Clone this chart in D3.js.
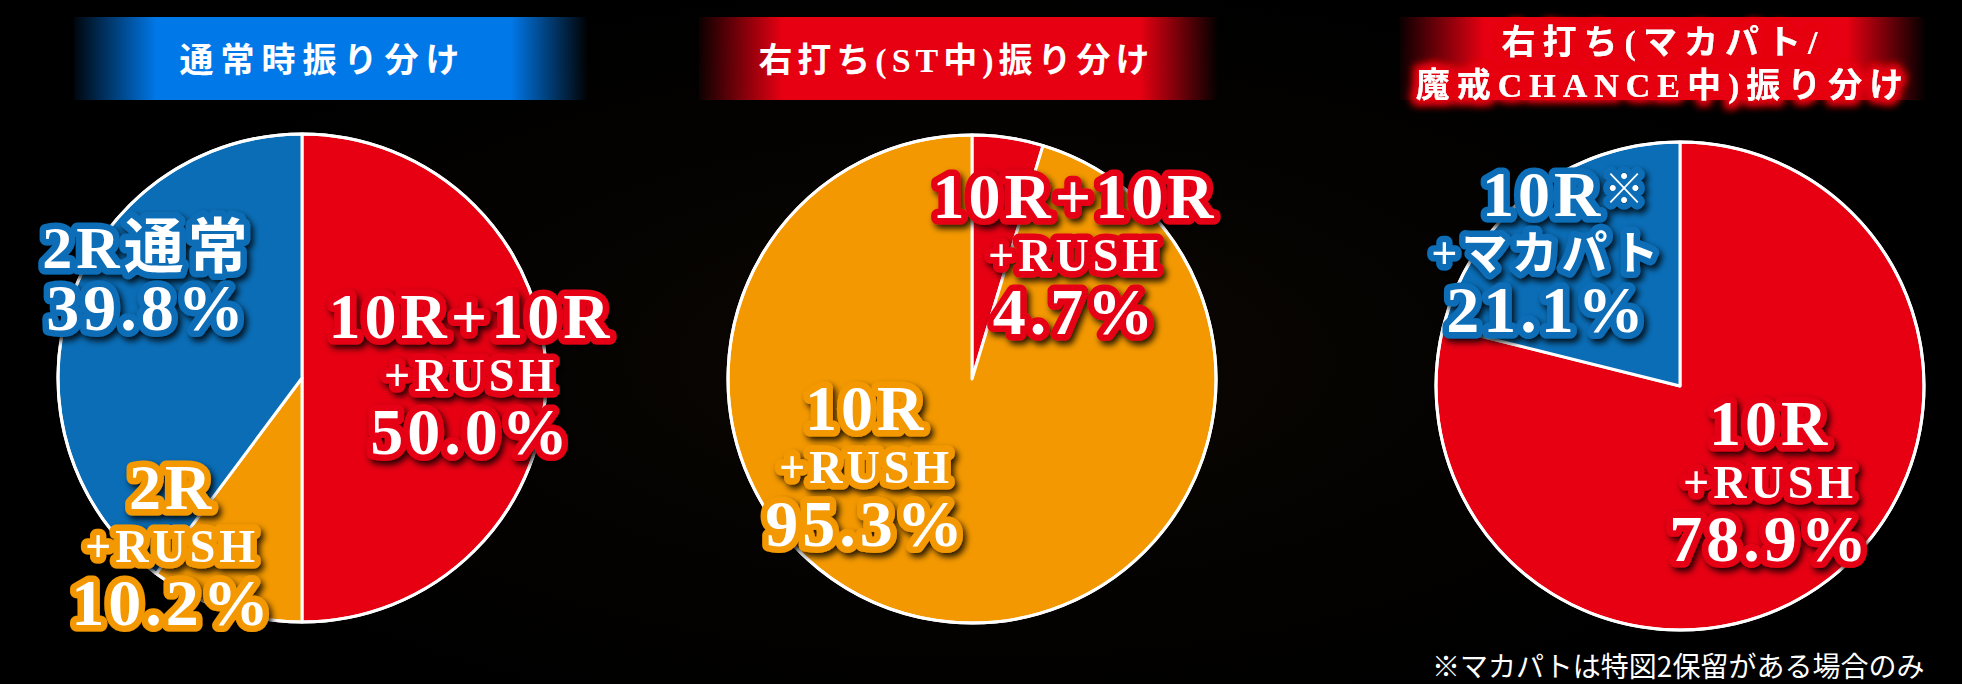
<!DOCTYPE html>
<html>
<head>
<meta charset="utf-8">
<script src="https://cdn.jsdelivr.net/npm/d3@7"></script>
<style>
  body { margin: 0; background: #000; }
  svg { display: block; }
</style>
</head>
<body>
<svg id="chart"></svg>
<script>
// values, clockwise from 12 o'clock
const normalCats = ["10R+10R|+RUSH", "2R|+RUSH", "2R通常"];
const normalValues = [50.0, 10.2, 39.8];
const stCats = ["10R+10R|+RUSH", "10R|+RUSH"];
const stValues = [4.7, 95.3];
const makaCats = ["10R|+RUSH", "10R※|+マカパト"];
const makaValues = [78.9, 21.1];
const titles = [
  ["通常時振り分け"],
  ["右打ち(ST中)振り分け"],
  ["右打ち(マカパト/", "魔戒CHANCE中)振り分け"]
];
const footnote = "※マカパトは特図2保留がある場合のみ";

const RED = "#e60012", ORANGE = "#f39800", BLUE = "#0a6db6";

var width = 1962, height = 684, radius = 244;

// layout per pie (centre, banner, label anchors relative to centre)
const charts = [
  { cats: normalCats, values: normalValues, colors: [RED, ORANGE, BLUE],
    cx: 302, cy: 378, banner: [74, 588], bannerColor: "#0078e8", spacing: 7,
    labelAt: [[169, -40], [-130, 131], [-155, -110]] },
  { cats: stCats, values: stValues, colors: [RED, ORANGE],
    cx: 972, cy: 379, banner: [699, 1218], bannerColor: RED, spacing: 5,
    labelAt: [[103, -161], [-106, 51]] },
  { cats: makaCats, values: makaValues, colors: [RED, BLUE],
    cx: 1680, cy: 386, banner: [1400, 1926], bannerColor: RED, spacing: 7,
    labelAt: [[90, 59], [-133, -170]] }
];

var svg = d3.select("#chart").attr("width", width).attr("height", height);
var defs = svg.append("defs");

/* background: black with a faint brown haze */
var bg = defs.append("radialGradient").attr("id", "bgGlow");
bg.append("stop").attr("offset", "0%").attr("stop-color", "#120b04");
bg.append("stop").attr("offset", "100%").attr("stop-color", "#000");
svg.append("rect").attr("width", width).attr("height", height).attr("fill", "#000");
svg.append("ellipse").attr("cx", 980).attr("cy", 360).attr("rx", 900).attr("ry", 380)
  .attr("fill", "url(#bgGlow)").attr("opacity", 0.6);

/* filters */
var shadow = defs.append("filter").attr("id", "shadow")
  .attr("x", "-20%").attr("y", "-20%").attr("width", "140%").attr("height", "140%");
shadow.append("feDropShadow").attr("dx", 3).attr("dy", 4).attr("stdDeviation", 3)
  .attr("flood-color", "#000").attr("flood-opacity", 0.85);

var glow = defs.append("filter").attr("id", "redGlow")
  .attr("x", "-10%").attr("y", "-40%").attr("width", "120%").attr("height", "180%");
glow.append("feMorphology").attr("in", "SourceAlpha").attr("operator", "dilate").attr("radius", 4).attr("result", "fat");
glow.append("feGaussianBlur").attr("in", "fat").attr("stdDeviation", 4).attr("result", "blur");
glow.append("feFlood").attr("flood-color", RED);
glow.append("feComposite").attr("in2", "blur").attr("operator", "in").attr("result", "halo");
var gm = glow.append("feMerge");
gm.append("feMergeNode").attr("in", "halo");
gm.append("feMergeNode").attr("in", "halo");
gm.append("feMergeNode").attr("in", "SourceGraphic");

var pie = d3.pie().sort(null).value(function(d) { return d; });
var arc = d3.arc().innerRadius(0).outerRadius(radius);
var fmt = d3.format(".1f");

charts.forEach(function(c, ci) {
  /* title banner */
  var gid = "banner" + ci;
  var grad = defs.append("linearGradient").attr("id", gid);
  [[0, 0.05], [0.16, 1], [0.85, 1], [1, 0]].forEach(function(s) {
    grad.append("stop").attr("offset", s[0]).attr("stop-color", c.bannerColor).attr("stop-opacity", s[1]);
  });
  svg.append("rect")
    .attr("x", c.banner[0]).attr("y", 17)
    .attr("width", c.banner[1] - c.banner[0]).attr("height", 83)
    .attr("fill", "url(#" + gid + ")");

  var tl = titles[ci];
  var tcx = (c.banner[0] + c.banner[1]) / 2 - (ci === 0 ? 8 : 0);
  var tys = tl.length === 1 ? [60] : [42, 85];
  svg.selectAll(".title" + ci)
    .data(tl)
    .enter()
    .append("text")
    .attr("class", "title" + ci)
    .attr("x", ci === 1 ? tcx - 2 : tcx)
    .attr("y", function(d, i) { return tys[i]; })
    .attr("dominant-baseline", "central")
    .attr("text-anchor", "middle")
    .attr("font-family", "'Liberation Serif', 'Noto Sans CJK JP', serif")
    .attr("font-weight", 700)
    .attr("font-size", 34)
    .attr("letter-spacing", c.spacing)
    .attr("fill", "#fff")
    .attr("filter", tl.length > 1 ? "url(#redGlow)" : null)
    .text(function(d) { return d; });

  /* the pie */
  var g = svg.append("g").attr("transform", "translate(" + c.cx + "," + c.cy + ")");
  g.selectAll("path")
    .data(pie(c.values))
    .enter()
    .append("path")
    .attr("d", arc)
    .attr("fill", function(d, i) { return c.colors[i]; })
    .attr("stroke", "#fff")
    .attr("stroke-width", 3)
    .attr("stroke-linejoin", "round");
  g.append("circle").attr("r", radius).attr("fill", "none")
    .attr("stroke", "#fff").attr("stroke-width", 3);

  /* labels */
  c.cats.forEach(function(cat, i) {
    var lines = cat.split("|").concat([fmt(c.values[i]) + "%"]);
    var sizes = lines.length === 3 ? [64, 46, 66] : [60, 66];
    var offs = lines.length === 3 ? [0, 53, 116] : [0, 62];
    var lg = g.append("g")
      .attr("transform", "translate(" + c.labelAt[i][0] + "," + c.labelAt[i][1] + ")")
      .attr("filter", "url(#shadow)");
    lines.forEach(function(s, li) {
      var txt = lg.append("text")
        .attr("y", offs[li])
        .attr("text-anchor", "middle")
        .attr("font-family", "'Liberation Serif', 'Noto Sans CJK JP', serif")
        .attr("font-weight", 700)
        .attr("font-size", sizes[li])
        .attr("letter-spacing", 4)
        .attr("fill", "#fff")
        .attr("stroke", c.colors[i])
        .attr("stroke-width", 13)
        .attr("stroke-linejoin", "round")
        .attr("paint-order", "stroke");
      if (s.slice(-1) === "※") {
        txt.attr("x", 18);
        txt.append("tspan").text(s.slice(0, -1));
        txt.append("tspan").attr("font-size", sizes[li] * 0.62)
          .attr("dy", -sizes[li] * 0.2).text("※");
      } else {
        txt.text(s);
      }
    });
  });
});

svg.append("text")
  .attr("x", 1432).attr("y", 677)
  .attr("font-family", "'Noto Sans CJK JP', sans-serif")
  .attr("font-size", 28)
  .attr("fill", "#fff")
  .text(footnote);
</script>
</body>
</html>
